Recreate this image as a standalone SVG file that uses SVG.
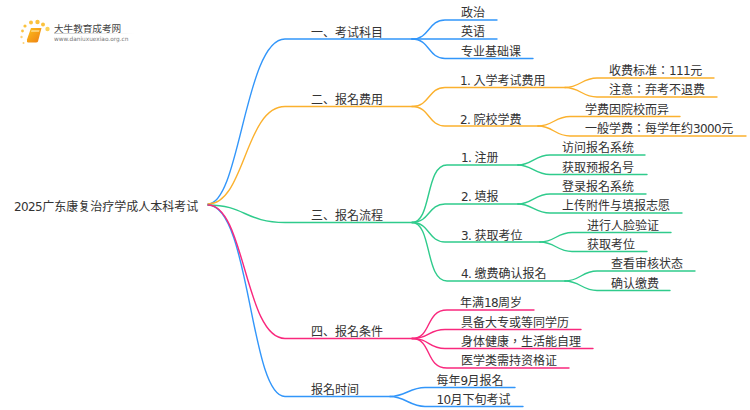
<svg xmlns="http://www.w3.org/2000/svg" width="750" height="410" viewBox="0 0 750 410">
<defs>
<linearGradient id="fade" x1="0" x2="1" y1="0" y2="0"><stop offset="0" stop-color="#ccc"/><stop offset="1" stop-color="#fff"/></linearGradient>
<linearGradient id="bk" x1="0" x2="1" y1="0" y2="1"><stop offset="0" stop-color="#fcc21c"/><stop offset="1" stop-color="#ee7d12"/></linearGradient>
</defs>
<style>
text{font-family:"DejaVu Sans","Noto Sans CJK JP",sans-serif;font-size:12px;fill:#333}
tspan{letter-spacing:-.6px}
tspan.s{letter-spacing:0;font-family:"Noto Sans CJK TC",sans-serif}
.c path{fill:none;stroke-width:1.4;stroke-linecap:round}
.b path{stroke:#3296fa}.o path{stroke:#fbb12e}.g path{stroke:#2fcb8c}.p path{stroke:#f9287d}
</style>
<rect width="750" height="410" fill="#fff"/>
<g id="logo">
<circle cx="25" cy="26" r="1.6" fill="#fbc23d"/><circle cx="22.500" cy="31" r="1.400" fill="#fbc23d"/><circle cx="21.500" cy="37" r="1.200" fill="#fcd277"/><circle cx="23.500" cy="43" r="1" fill="#fcd277"/><circle cx="31" cy="22.500" r="2" fill="#fbc23d"/><circle cx="37.500" cy="22" r="2.200" fill="#fbc23d"/><circle cx="43" cy="24.500" r="2" fill="#fbc23d"/><circle cx="47.500" cy="29" r="2.200" fill="#fbd25a"/>
<path d="M31 28H41.500L38 41.500Q37.500 42.500 36 42.500H28Q26.500 42 27 39.500Z" fill="url(#bk)"/>
<path d="M31.500 30H39.500L39 32H31Z" fill="#fde9a8" opacity=".6"/>
<text x="54" y="31.500" style="font-size:9.600px;fill:#444">大牛教育成考网</text>
<rect x="54" y="33" width="80" height="1" fill="url(#fade)"/>
<text x="54" y="41" style="font-size:5.800px;fill:#777">www.daniuxuexiao.org.cn</text>
</g>
<g id="connectors" class="c">
<g class="b">
<path d="M208 204C240 204 245 39 285 39H412"/>
<path d="M412 39C430 39 428 20 445 20H497"/><path d="M412 39H497"/><path d="M412 39C430 39 428 58.500 445 58.500H533"/>
<path d="M208 205C250 205 250 396.500 285 396.500H390"/>
<path d="M390 396.500C405 396.500 410 387.500 425 387.500H515"/><path d="M390 396.500C405 396.500 410 406.500 425 406.500H523"/>
</g>
<g class="o">
<path d="M208 204C245 204 245 106.500 285 106.500H412"/>
<path d="M412 106.500C430 106.500 428 87.500 445 87.500H565"/><path d="M412 106.500C430 106.500 428 126 445 126H538"/>
<path d="M565 87.500C580 87.500 582 78 597 78H714"/><path d="M565 87.500C580 87.500 582 97 597 97H717"/>
<path d="M538 126C553 126 555 116.500 570 116.500H680"/><path d="M538 126C553 126 555 136 570 136H746"/>
</g>
<g class="g">
<path d="M208 205C245 205 245 222.500 285 222.500H412"/>
<path d="M412 222.500C432 222.500 425 165 447 165H518"/><path d="M412 222.500C430 222.500 428 204 445 204H518"/><path d="M412 222.500C430 222.500 428 242 445 242H540"/><path d="M412 222.500C432 222.500 425 281 447 281H565"/>
<path d="M518 165C532 165 535 155 550 155H645"/><path d="M518 165C532 165 535 174.500 550 174.500H647"/>
<path d="M518 204C532 204 535 194 550 194H646"/><path d="M518 204C532 204 535 213 550 213H682"/>
<path d="M540 242C555 242 557 232.500 572 232.500H671"/><path d="M540 242C555 242 557 251.500 572 251.500H647"/>
<path d="M565 281C580 281 582 271 597 271H695"/><path d="M565 281C580 281 582 290.500 597 290.500H670"/>
</g>
<g class="p">
<path d="M208 205C245 205 245 338.500 285 338.500H412"/>
<path d="M412 338.500C432 338.500 425 310 447 310H534"/><path d="M412 338.500C430 338.500 428 329.500 445 329.500H581"/><path d="M412 338.500C430 338.500 428 348.500 445 348.500H593"/><path d="M412 338.500C432 338.500 425 368 447 368H569"/>
</g>
</g>
<g id="root"><text x="14" y="211"><tspan>2025</tspan>广东康复治疗学成人本科考试</text></g>
<g id="n1"><text x="311" y="36.500">一、考试科目</text></g>
<g id="n1a"><text x="461" y="17">政治</text></g>
<g id="n1b"><text x="461" y="36">英语</text></g>
<g id="n1c"><text x="461" y="55.500">专业基础课</text></g>
<g id="n2"><text x="311" y="104">二、报名费用</text></g>
<g id="n2a"><text x="460" y="84.500"><tspan>1. </tspan>入学考试费用</text></g>
<g id="n2a1"><text x="609" y="75">收费标准：<tspan>111</tspan>元</text></g>
<g id="n2a2"><text x="609" y="94">注意：弃考不退费</text></g>
<g id="n2b"><text x="460" y="123.500"><tspan>2. </tspan>院校学费</text></g>
<g id="n2b1"><text x="585" y="113.500">学费因院校而异</text></g>
<g id="n2b2"><text x="585" y="133">一般学费：每学年约<tspan>3000</tspan>元</text></g>
<g id="n3"><text x="311" y="219.500">三、报名流程</text></g>
<g id="n3a"><text x="461" y="162"><tspan>1. </tspan>注册</text></g>
<g id="n3a1"><text x="562" y="152">访问报名系统</text></g>
<g id="n3a2"><text x="562" y="171.500">获取预报名号</text></g>
<g id="n3b"><text x="461" y="200.500"><tspan>2. </tspan>填报</text></g>
<g id="n3b1"><text x="562" y="191">登录报名系统</text></g>
<g id="n3b2"><text x="562" y="210">上传附件与填报志愿</text></g>
<g id="n3c"><text x="461" y="239.500"><tspan>3. </tspan>获取考位</text></g>
<g id="n3c1"><text x="587" y="229.500">进行人脸验证</text></g>
<g id="n3c2"><text x="587" y="248.500">获取考位</text></g>
<g id="n3d"><text x="461" y="277.500"><tspan>4. </tspan>缴费确认报名</text></g>
<g id="n3d1"><text x="611" y="268">查看审核状态</text></g>
<g id="n3d2"><text x="611" y="287.500">确认缴费</text></g>
<g id="n4"><text x="311" y="335.500">四、报名条件</text></g>
<g id="n4a"><text x="460" y="307">年满<tspan>18</tspan>周岁</text></g>
<g id="n4b"><text x="461" y="326.500">具备大专或等同学历</text></g>
<g id="n4c"><text x="461" y="345.500">身体健康<tspan class="s">，</tspan>生活能自理</text></g>
<g id="n4d"><text x="461" y="365">医学类需持资格证</text></g>
<g id="n5"><text x="311" y="393.500">报名时间</text></g>
<g id="n5a"><text x="436.500" y="384.500">每年<tspan>9</tspan>月报名</text></g>
<g id="n5b"><text x="436.500" y="403.500"><tspan>10</tspan>月下旬考试</text></g>
</svg>
